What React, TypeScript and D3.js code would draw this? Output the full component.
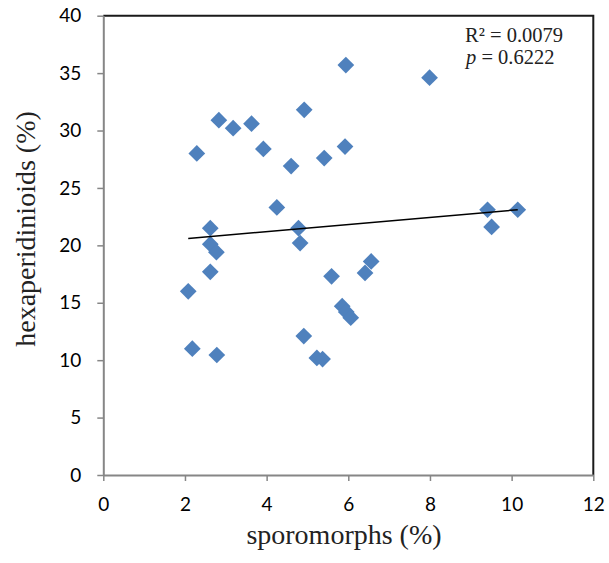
import React, { useRef, useEffect } from "react";
import * as d3 from "d3";

// sporomorphs (%) vs hexaperidinioids (%)
const sporomorphs = [
  2.08, 2.18, 2.29, 2.62, 2.62, 2.77, 2.62, 2.78, 2.83, 3.18, 3.63, 3.92, 4.25,
  4.6, 4.78, 4.82, 4.92, 4.91, 5.23, 5.37, 5.41, 5.59, 5.85, 5.95, 6.06, 5.92,
  5.94, 6.41, 6.56, 7.99, 9.41, 9.51, 10.15,
];
const hexaperidinioids = [
  16.0, 11.0, 28.0, 21.5, 20.1, 19.4, 17.7, 10.45, 30.9, 30.2, 30.6, 28.4, 23.3,
  26.9, 21.5, 20.2, 31.8, 12.1, 10.2, 10.1, 27.6, 17.3, 14.7, 14.2, 13.7, 28.6,
  35.7, 17.6, 18.6, 34.6, 23.1, 21.6, 23.1,
];
const trendX = [2.08, 10.15];
const trendY = [20.6, 23.1];
const xTicks = [0, 2, 4, 6, 8, 10, 12];
const yTicks = [0, 5, 10, 15, 20, 25, 30, 35, 40];

const App = () => {
  const svgRef = useRef<SVGSVGElement>(null);

  useEffect(() => {
    const svg = d3.select(svgRef.current);
    svg.selectAll("*").remove();

    const x = d3.scaleLinear().domain([0, 12]).range([103.3, 593.3]);
    const y = d3.scaleLinear().domain([0, 40]).range([475, 15.7]);
    const axisGray = "#868686";

    // top + right frame
    svg
      .append("path")
      .attr("d", `M${x(0)},${y(40)}H${x(12)}V${y(0)}`)
      .attr("fill", "none")
      .attr("stroke", "#1a1a1a")
      .attr("stroke-width", 2);

    // x axis
    const gx = svg
      .append("g")
      .attr("transform", `translate(0,${y(0)})`)
      .call(d3.axisBottom(x).tickValues(xTicks).tickSize(6).tickSizeOuter(0).tickPadding(17));
    // y axis
    const gy = svg
      .append("g")
      .attr("transform", `translate(${x(0)},0)`)
      .call(d3.axisLeft(y).tickValues(yTicks).tickSize(6).tickSizeOuter(0).tickPadding(16));

    [gx, gy].forEach((g) => {
      g.select(".domain").attr("stroke", axisGray).attr("stroke-width", 2);
      g.selectAll(".tick line").attr("stroke", axisGray).attr("stroke-width", 1.5);
      g.selectAll(".tick text")
        .attr("fill", "#000")
        .style("font-family", "Lato, sans-serif")
        .style("font-size", "19px");
    });

    // points
    const pts = sporomorphs.map((v, i) => [v, hexaperidinioids[i]]);
    const diamond = d3.symbol().type(d3.symbolSquare).size(140);
    svg
      .append("g")
      .selectAll("path")
      .data(pts)
      .enter()
      .append("path")
      .attr("d", diamond)
      .attr("transform", (d) => `translate(${x(d[0])},${y(d[1])}) rotate(45)`)
      .attr("fill", "#4f81bd");

    // trend line
    svg
      .append("line")
      .attr("x1", x(trendX[0]))
      .attr("y1", y(trendY[0]))
      .attr("x2", x(trendX[1]))
      .attr("y2", y(trendY[1]))
      .attr("stroke", "#000")
      .attr("stroke-width", 1.5);

    // stats
    const stats = svg
      .append("g")
      .style("font-family", "'Liberation Serif', serif")
      .style("font-size", "20.5px")
      .attr("fill", "#222");
    stats.append("text").attr("x", 465).attr("y", 42).text("R² = 0.0079");
    const pt = stats.append("text").attr("x", 466).attr("y", 64);
    pt.append("tspan").style("font-style", "italic").text("p");
    pt.append("tspan").text(" = 0.6222");

    // axis titles
    svg
      .append("text")
      .attr("x", 344)
      .attr("y", 544)
      .attr("text-anchor", "middle")
      .style("font-family", "'Liberation Serif', serif")
      .style("font-size", "28px")
      .attr("fill", "#222")
      .text("sporomorphs (%)");
    svg
      .append("text")
      .attr("transform", "translate(35,229) rotate(-90)")
      .attr("text-anchor", "middle")
      .style("font-family", "'Liberation Serif', serif")
      .style("font-size", "28px")
      .attr("fill", "#222")
      .text("hexaperidinioids (%)");
  }, []);

  return (
    <svg
      ref={svgRef}
      width={609}
      height={563}
      style={{ position: "absolute", left: 0, top: 0, background: "#fff" }}
    ></svg>
  );
};

export default App;
